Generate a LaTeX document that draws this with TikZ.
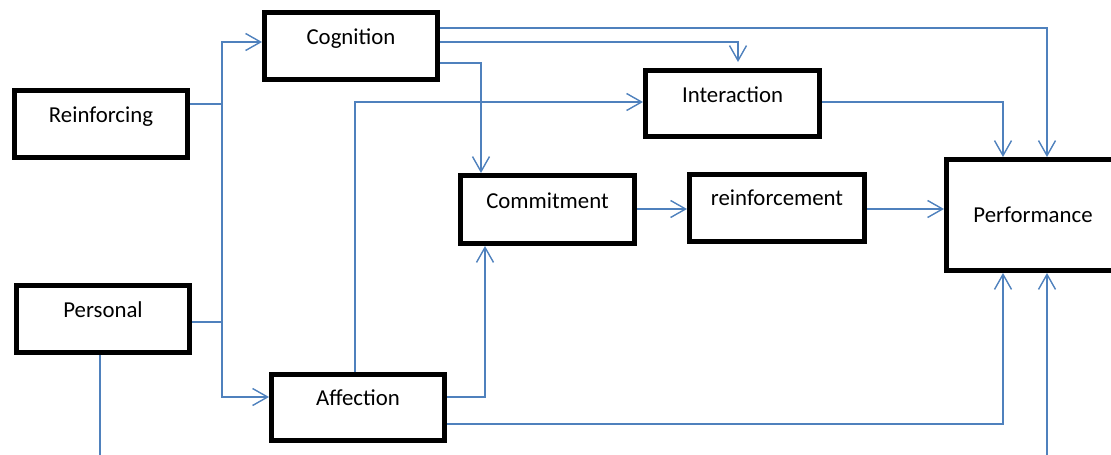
\documentclass[tikz,border=0pt]{standalone}
\usepackage{fontspec}
\setmainfont{Carlito}
\usetikzlibrary{arrows.meta}
\definecolor{linkblue}{RGB}{79,129,189}
\tikzset{
  box/.style={draw=black, line width=5pt, minimum width=173pt, minimum height=67pt, inner sep=0pt},
  lbl/.style={anchor=base, inner sep=0pt, font=\fontsize{22.8pt}{27pt}\selectfont},
  conn/.style={draw=linkblue, line width=1.4pt},
  arr/.style={conn, -{Straight Barb[length=15pt,width=17pt,line width=1.4pt]}}
}
\begin{document}
\begin{tikzpicture}[x=1pt,y=-1pt]
\useasboundingbox (0,0) rectangle (1111,455);
\clip (0,0) rectangle (1111,455);
% boxes
\node[box] (reinf) at (101,124) {};
\node[box] (pers) at (103,319) {};
\node[box] (cog) at (351,46) {};
\node[box, minimum width=174pt, minimum height=66pt] (inter) at (732.5,103.5) {};
\node[box, minimum width=174pt, minimum height=68pt] (comm) at (547.5,209.5) {};
\node[box, minimum width=175pt] (rfm) at (777,208) {};
\node[box, minimum height=66pt] (aff) at (358,407.5) {};
\node[box, minimum height=111pt] (perf) at (1033,215) {};
% labels
\node[lbl] (treinf) at ([yshift=1.5pt]reinf.center) {Reinforcing};
\node[lbl] (tpers) at ([yshift=1.7pt]pers.center) {Personal};
\node[lbl] (tcog) at ([yshift=2pt]cog.center) {Cognition};
\node[lbl] (tinter) at ([yshift=0.8pt]inter.center) {Interaction};
\node[lbl] (tcomm) at ([yshift=1.2pt]comm.center) {Commitment};
\node[lbl] (trfm) at ([yshift=2.3pt]rfm.center) {reinforcement};
\node[lbl] (taff) at ([yshift=2.5pt]aff.center) {Affection};
\node[lbl] (tperf) at ([yshift=-7.7pt]perf.center) {Performance};
% junctions and free ends
\coordinate (j1) at (222,104);
\coordinate (j2) at (222,322);
\coordinate (pbot) at (100,455);
\coordinate (rbot) at (1047,455);
% left trunk
\draw[conn] ([yshift=20pt]reinf.east) -- (j1);
\draw[conn] ([yshift=-3pt]pers.east) -- (j2);
\draw[conn] (j1) -- (j2);
\draw[arr] (j1) |- ([yshift=4pt]cog.west);
\draw[arr] (j2) |- ([yshift=10.5pt]aff.west);
% cognition outputs
\draw[arr] ([yshift=18pt]cog.east) -| ([xshift=14pt]perf.north);
\draw[arr, shorten >=6pt] ([yshift=4pt]cog.east) -| ([xshift=5.5pt]inter.north);
\draw[arr] ([yshift=-17pt]cog.east) -| ([xshift=-66.5pt]comm.north);
% affection outputs
\draw[arr] ([yshift=10.5pt]aff.east) -| ([xshift=-62.5pt]comm.south);
\draw[arr] ([yshift=-16.5pt]aff.east) -| ([xshift=-30pt]perf.south);
\draw[arr] ([xshift=-3pt]aff.north) |- ([yshift=1.5pt]inter.west);
% others
\draw[arr] ([yshift=1.5pt]inter.east) -| ([xshift=-30pt]perf.north);
\draw[arr] ([yshift=0.5pt]comm.east) -- ([yshift=-1pt]rfm.west);
\draw[arr] ([yshift=-1pt]rfm.east) -- ([yshift=6pt]perf.west);
\draw[conn] ([xshift=-3pt]pers.south) -- (pbot);
\draw[arr] (rbot) -- ([xshift=14pt]perf.south);
\end{tikzpicture}
\end{document}
